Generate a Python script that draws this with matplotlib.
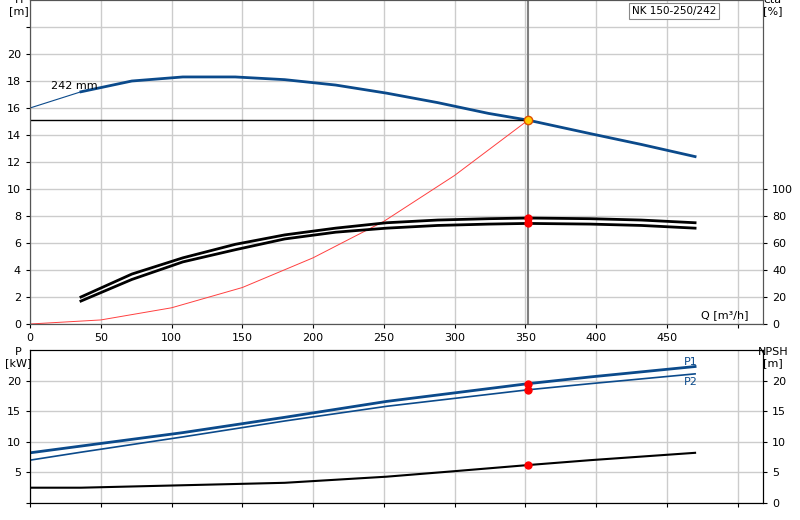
import matplotlib
matplotlib.use("Agg")
import matplotlib.pyplot as plt

H_q = [0, 36, 72, 108, 145, 180, 216, 252, 288, 324, 352, 396, 432, 470]
H_v = [16.0, 17.2, 18.0, 18.3, 18.3, 18.1, 17.7, 17.1, 16.4, 15.6, 15.1, 14.1, 13.3, 12.4]
eta_q = [36, 72, 108, 145, 180, 216, 252, 288, 324, 352, 396, 432, 470]
eta1 = [20, 37, 49, 59, 66, 71, 75, 77, 78, 78.5, 78, 77, 75]
eta2 = [17, 33, 46, 55, 63, 68, 71, 73, 74, 74.5, 74, 73, 71]
sys_q = [0, 50, 100, 150, 200, 250, 300, 352]
sys_h = [0, 0.3, 1.2, 2.7, 4.9, 7.6, 11.0, 15.1]
p_q = [0, 36, 108, 180, 252, 352, 396, 470]
P1 = [8.2, 9.3, 11.5, 14.0, 16.6, 19.5, 20.6, 22.3]
P2 = [7.0, 8.3, 10.8, 13.4, 15.8, 18.5, 19.5, 21.1]
n_q = [0, 36, 108, 180, 252, 300, 352, 396, 470]
NPSH = [2.5, 2.5, 2.9, 3.3, 4.3, 5.2, 6.2, 7.0, 8.2]
Qd, Hd = 352, 15.1

blue = "#0b4a8b"
fig = plt.figure(figsize=(8, 5.2), dpi=100)
ax = fig.add_axes([30/800, 1-324/520, 733/800, 324/520])
ax.set_xlim(0, 518); ax.set_ylim(0, 24)
ax.set_xticks(range(0, 501, 50)); ax.set_xticklabels(["0"] + [str(v) for v in range(50, 451, 50)] + [""])
ax.set_yticks(range(0, 23, 2)); ax.set_yticklabels([str(v) for v in range(0, 21, 2)] + [""])
ax.grid(True, color="#cccccc", lw=1)
ax.plot(H_q[:2], H_v[:2], color=blue, lw=0.8)
ax.plot(H_q[1:], H_v[1:], color=blue, lw=2)
ax.plot(sys_q, sys_h, color="#ff4040", lw=0.7)
ax.plot(eta_q, [v/10 for v in eta1], color="black", lw=2)
ax.plot(eta_q, [v/10 for v in eta2], color="black", lw=2)
ax.axhline(Hd, xmax=Qd/518, color="black", lw=1)
ax.axvline(Qd, color="gray", lw=1.5)
ax.plot([Qd], [Hd], "o", color="#ffcc00", mec="#e05000", ms=6, zorder=5)
ax.plot([Qd, Qd], [7.85, 7.45], "o", color="red", ms=5, zorder=5)
ax.text(15, 17.4, "242 mm", fontsize=8)
ax.text(-8, 22.8, "H\n[m]", fontsize=8, ha="center", va="bottom", clip_on=False)
ax.text(525, 22.8, "eta\n[%]", fontsize=8, ha="center", va="bottom", clip_on=False)
ax.text(508, 0.3, "Q [m³/h]", fontsize=8, ha="right", va="bottom")
ax.text(455, 23.2, "NK 150-250/242", fontsize=7.5, ha="center", va="center",
        bbox=dict(fc="white", ec="#888888", lw=0.8, pad=2))
ax.tick_params(labelsize=8, length=3)
ax2 = ax.twinx(); ax2.set_ylim(0, 240)
ax2.set_yticks(range(0, 101, 20)); ax2.tick_params(labelsize=8, length=3)
for a in (ax, ax2):
    for s in a.spines.values(): s.set_color("#555555")

bx = fig.add_axes([30/800, 1-503/520, 733/800, 153/520])
bx.set_xlim(0, 518); bx.set_ylim(0, 25)
bx.set_xticks(range(0, 501, 50)); bx.set_xticklabels([])
bx.set_yticks(range(0, 21, 5)); bx.set_yticklabels(["", "5", "10", "15", "20"])
bx.grid(True, color="#cccccc", lw=1)
bx.plot(p_q, P1, color=blue, lw=2)
bx.plot(p_q, P2, color=blue, lw=1.2)
bx.plot(n_q, NPSH, color="black", lw=1.5)
bx.plot([Qd, Qd], [19.5, 18.5], "o", color="red", ms=5, zorder=5)
bx.plot([Qd], [6.2], "o", color="red", ms=5, zorder=5)
bx.text(462, 22.6, "P1", color=blue, fontsize=8)
bx.text(462, 19.2, "P2", color=blue, fontsize=8)
bx.text(-8, 22, "P\n[kW]", fontsize=8, ha="center", va="bottom", clip_on=False)
bx.text(525, 22, "NPSH\n[m]", fontsize=8, ha="center", va="bottom", clip_on=False)
bx.tick_params(labelsize=8, length=3)
bx2 = bx.twinx(); bx2.set_ylim(0, 25); bx2.set_yticks(range(0, 21, 5)); bx2.tick_params(labelsize=8, length=3)
fig.savefig("out.png", dpi=100)
